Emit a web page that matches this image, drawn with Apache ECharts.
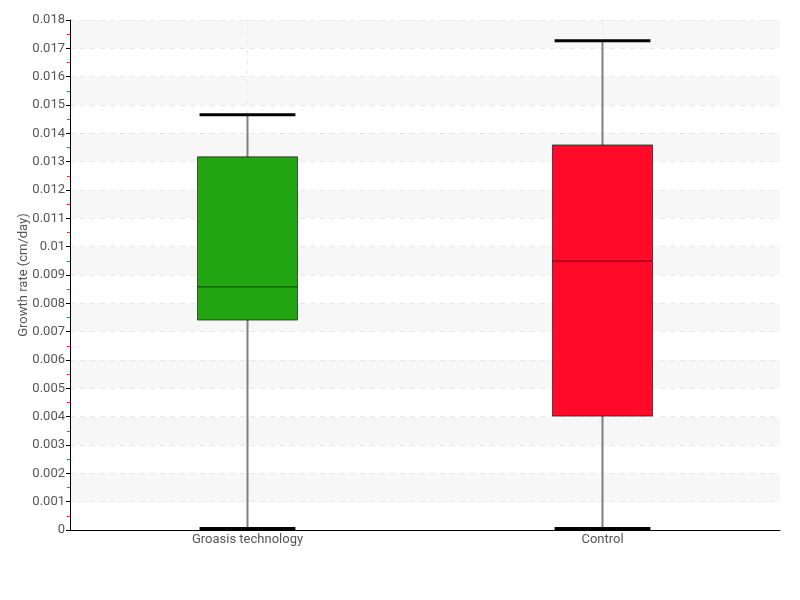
<!DOCTYPE html>
<html><head><meta charset="utf-8">
<script src="https://cdn.jsdelivr.net/npm/echarts@6/dist/echarts.min.js"></script>
<style>html,body{margin:0;padding:0;background:#fff}#c{width:800px;height:600px}</style>
</head><body><div id="c"></div>
<script>
const categories = ['Groasis technology', 'Control'];
const minValues = [0.00005, 0.00005];
const q1Values = [0.00741, 0.00402];
const medianValues = [0.00858, 0.00949];
const q3Values = [0.01317, 0.01359];
const maxValues = [0.01466, 0.01727];
const boxColors = ['#21a510', '#ff0a28'];

const FONT = "Roboto, 'Noto Sans', sans-serif";
const data = categories.map((c, i) => [i, minValues[i], q1Values[i], medianValues[i], q3Values[i], maxValues[i]]);

const chart = echarts.init(document.getElementById('c'));
chart.setOption({
  animation: false,
  grid: {left: 70, right: 20, top: 20, bottom: 70},
  xAxis: {
    type: 'category', data: categories,
    axisLine: {lineStyle: {color: '#000', width: 1}},
    axisTick: {show: false, alignWithLabel: true},
    axisLabel: {color: '#555', fontFamily: FONT, fontSize: 13, margin: 3},
    splitLine: {show: true, alignWithLabel: true, lineStyle: {color: '#ececec', type: [5, 5]}}
  },
  yAxis: {
    type: 'value', min: 0, max: 0.018, interval: 0.001,
    name: 'Growth rate (cm/day)', nameLocation: 'middle', nameGap: 40, nameMoveOverlap: false,
    nameTextStyle: {color: '#555', fontFamily: FONT, fontSize: 13},
    axisLine: {show: true, lineStyle: {color: '#000'}},
    axisTick: {show: true, length: 4, lineStyle: {color: '#000'}},
    minorTick: {show: true, splitNumber: 2, length: 3, lineStyle: {color: '#ff3030'}},
    axisLabel: {color: '#555', fontFamily: FONT, fontSize: 13, margin: 5,
      formatter: v => String(Math.round(v * 1000) / 1000)},
    splitLine: {show: true, lineStyle: {color: '#e8e8e8', type: [5, 5]}},
    splitArea: {show: true, areaStyle: {color: ['#ffffff', '#f7f7f7']}}
  },
  series: [{
    type: 'custom',
    data: data,
    encode: {x: 0, y: [1, 2, 3, 4, 5]},
    renderItem: function (params, api) {
      const idx = api.value(0);
      const pMin = api.coord([idx, api.value(1)]);
      const pQ1 = api.coord([idx, api.value(2)]);
      const pMed = api.coord([idx, api.value(3)]);
      const pQ3 = api.coord([idx, api.value(4)]);
      const pMax = api.coord([idx, api.value(5)]);
      const band = api.size([1, 0])[0];
      const boxW = band * 0.2817;
      const capW = band * 0.27;
      const x = pMed[0];
      return {
        type: 'group',
        children: [
          {type: 'line', shape: {x1: x, y1: pMin[1], x2: x, y2: pMax[1]},
            style: {stroke: '#808080', lineWidth: 2}},
          {type: 'rect', shape: {x: x - boxW / 2, y: pQ3[1], width: boxW, height: pQ1[1] - pQ3[1]},
            style: {fill: boxColors[idx], stroke: 'rgba(0,0,0,0.6)', lineWidth: 1}},
          {type: 'line', shape: {x1: x - boxW / 2, y1: pMed[1], x2: x + boxW / 2, y2: pMed[1]},
            style: {stroke: 'rgba(0,0,0,0.6)', lineWidth: 1}},
          {type: 'line', shape: {x1: x - capW / 2, y1: pMax[1], x2: x + capW / 2, y2: pMax[1]},
            style: {stroke: '#000', lineWidth: 3}},
          {type: 'line', shape: {x1: x - capW / 2, y1: pMin[1], x2: x + capW / 2, y2: pMin[1]},
            style: {stroke: '#000', lineWidth: 3}}
        ]
      };
    }
  }]
});
</script></body></html>
